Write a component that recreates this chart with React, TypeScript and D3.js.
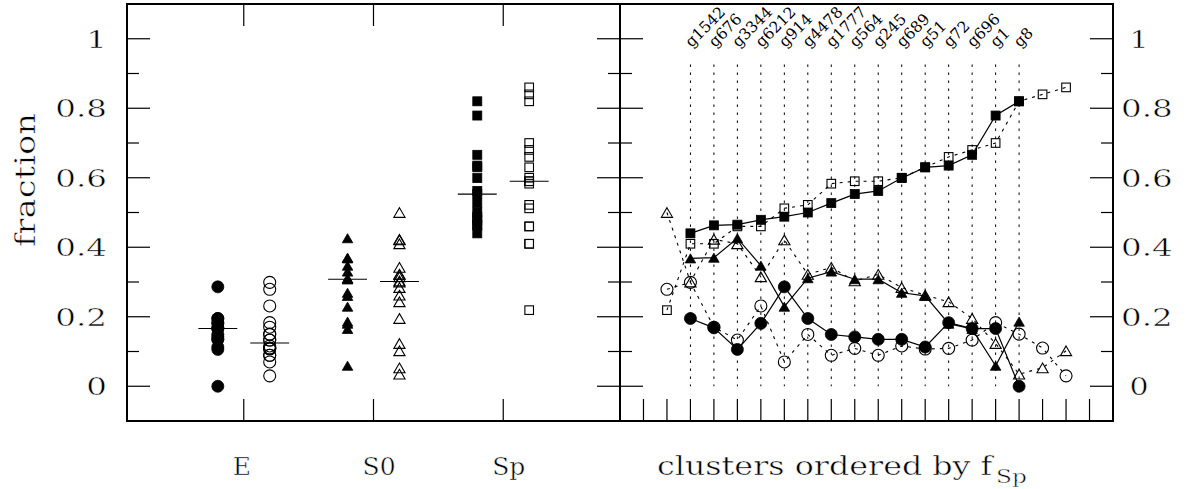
import React from "react";
import * as d3 from "d3";

// Cluster names, in the order of increasing spiral fraction
const clusters = [
  "g1542", "g676", "g3344", "g6212", "g914", "g4478", "g1777", "g564",
  "g245", "g689", "g51", "g72", "g696", "g1", "g8",
];
// Slots on the ordered axis: clusters occupy 3..17, the comparison sample 2..19
const clusterPos = d3.range(3, 18);
const compPos = d3.range(2, 20);

// Morphological fractions of the clusters (filled symbols)
const spCluster = [0.44, 0.463, 0.465, 0.479, 0.488, 0.5, 0.527, 0.553, 0.562, 0.599, 0.63, 0.635, 0.666, 0.779, 0.82];
const s0Cluster = [0.368, 0.37, 0.426, 0.347, 0.229, 0.311, 0.33, 0.308, 0.308, 0.269, 0.26, 0.18, 0.165, 0.059, 0.186];
const eCluster = [0.195, 0.168, 0.106, 0.181, 0.286, 0.195, 0.149, 0.142, 0.135, 0.135, 0.113, 0.183, 0.166, 0.166, 0.0];

// Morphological fractions of the comparison sample (open symbols)
const spComp = [0.219, 0.41, 0.41, 0.46, 0.46, 0.512, 0.522, 0.583, 0.59, 0.59, 0.6, 0.63, 0.66, 0.68, 0.7, 0.82, 0.84, 0.86];
const s0Comp = [0.5, 0.3, 0.423, 0.41, 0.315, 0.421, 0.322, 0.342, 0.303, 0.322, 0.284, 0.262, 0.243, 0.195, 0.123, 0.035, 0.053, 0.102];
const eComp = [0.279, 0.299, 0.17, 0.133, 0.231, 0.07, 0.149, 0.089, 0.109, 0.089, 0.116, 0.107, 0.109, 0.133, 0.183, 0.15, 0.11, 0.03];

const categories = ["E", "S0", "Sp"];
const yTicks = [0, 0.2, 0.4, 0.6, 0.8, 1];
const yTickLabels = ["0", "0.2", "0.4", "0.6", "0.8", "1"];
const yMinor = [0.1, 0.3, 0.5, 0.7, 0.9];

const W = 1193;
const H = 489;
const top = 4;
const bottom = 421;
const midX = 620;

const y = d3.scaleLinear().domain([-0.1, 1.1]).range([bottom, top]);
const xL = d3.scaleLinear().domain([0.1, 3.9]).range([127, midX]);
const xR = d3.scaleLinear().domain([0, 21]).range([midX, 1113]);

const FONT = "DejaVu Serif";
// thin white outline that lightens the glyph strokes
const thin = { stroke: "#fff", strokeWidth: 0.5 };

type Shape = "circle" | "square" | "triangle";

function Marker({ shape, cx, cy, filled }: { shape: Shape; cx: number; cy: number; filled: boolean }) {
  const fill = filled ? "#000" : "none";
  const sw = filled ? 0.8 : 1.1;
  if (shape === "circle") {
    return <circle cx={cx} cy={cy} r={6} fill={fill} stroke="#000" strokeWidth={sw} />;
  }
  if (shape === "square") {
    const s = filled ? 9 : 8.6;
    return <rect x={cx - s / 2} y={cy - s / 2} width={s} height={s} fill={fill} stroke="#000" strokeWidth={sw} />;
  }
  const w = filled ? 10.5 : 11.2;
  const h = w * 0.866;
  const p = `M${cx},${cy - h / 2}L${cx + w / 2},${cy + h / 2}L${cx - w / 2},${cy + h / 2}Z`;
  return <path d={p} fill={fill} stroke="#000" strokeWidth={sw} strokeLinejoin="miter" />;
}

function SLabel({ x, yy, text, size, sx = 1, anchor = "middle", rotate = 0 }: {
  x: number; yy: number; text: string; size: number; sx?: number; anchor?: string; rotate?: number;
}) {
  return (
    <text
      transform={`translate(${x},${yy}) rotate(${rotate}) scale(${sx},1)`}
      fontFamily={FONT}
      fontSize={size}
      textAnchor={anchor}
      fill="#000"
      {...thin}
    >
      {text}
    </text>
  );
}

const series: { shape: Shape; cluster: number[]; comp: number[] }[] = [
  { shape: "circle", cluster: eCluster, comp: eComp },
  { shape: "triangle", cluster: s0Cluster, comp: s0Comp },
  { shape: "square", cluster: spCluster, comp: spComp },
];

export default function App() {
  const line = d3.line<[number, number]>().x((d) => d[0]).y((d) => d[1]);

  const yTickMarks = (x0: number, dir: number) => (
    <g stroke="#000" strokeWidth={1.2}>
      {yTicks.map((t) => (
        <line key={`M${t}`} x1={x0} x2={x0 + dir * 23} y1={y(t)} y2={y(t)} />
      ))}
      {yMinor.map((t) => (
        <line key={`m${t}`} x1={x0} x2={x0 + dir * 12} y1={y(t)} y2={y(t)} />
      ))}
    </g>
  );

  return (
    <svg
      width={W}
      height={H}
      viewBox={`0 0 ${W} ${H}`}
      style={{ position: "absolute", left: 0, top: 0, display: "block", background: "#fff" }}
    >
      <rect x={0} y={0} width={W} height={H} fill="#fff" />

      {/* Left panel: fractions per morphological type */}
      {yTickMarks(xL.range()[0], 1)}
      {yTickMarks(midX, -1)}
      <g stroke="#000" strokeWidth={1.2}>
        {[1, 2, 3].map((c) => (
          <g key={c}>
            <line x1={xL(c)} x2={xL(c)} y1={top} y2={top + 22} />
            <line x1={xL(c)} x2={xL(c)} y1={bottom} y2={bottom - 22} />
          </g>
        ))}
      </g>
      {series.map((s, i) => {
        const c = i + 1;
        const medF = d3.median(s.cluster) as number;
        const medO = d3.median(s.comp) as number;
        return (
          <g key={s.shape}>
            {s.cluster.map((v, j) => (
              <Marker key={`f${j}`} shape={s.shape} cx={xL(c - 0.2)} cy={y(v)} filled />
            ))}
            {s.comp.map((v, j) => (
              <Marker key={`o${j}`} shape={s.shape} cx={xL(c + 0.2)} cy={y(v)} filled={false} />
            ))}
            <line x1={xL(c - 0.35)} x2={xL(c - 0.05)} y1={y(medF)} y2={y(medF)} stroke="#000" strokeWidth={1.1} />
            <line x1={xL(c + 0.05)} x2={xL(c + 0.35)} y1={y(medO)} y2={y(medO)} stroke="#000" strokeWidth={1.1} />
          </g>
        );
      })}

      {/* Right panel: fractions per cluster */}
      {yTickMarks(midX, 1)}
      {yTickMarks(xR.range()[1], -1)}
      <g stroke="#000" strokeWidth={1.2}>
        {d3.range(1, 21).map((p) => (
          <line key={p} x1={xR(p)} x2={xR(p)} y1={bottom} y2={bottom - 22} />
        ))}
      </g>
      <g stroke="#000" strokeWidth={1} strokeDasharray="2.5,5.5">
        {clusterPos.map((p) => (
          <line key={p} x1={xR(p)} x2={xR(p)} y1={y(0.926)} y2={y(0)} />
        ))}
      </g>
      {clusters.map((name, i) => (
        <text
          key={name}
          transform={`translate(${xR(clusterPos[i]) + 1},${48}) rotate(-45)`}
          fontFamily={FONT}
          fontSize={15.5}
          fill="#000"
        >
          {name}
        </text>
      ))}
      {series.map((s) => (
        <g key={`r${s.shape}`}>
          <path
            d={line(s.comp.map((v, j) => [xR(compPos[j]), y(v)] as [number, number])) ?? ""}
            fill="none"
            stroke="#000"
            strokeWidth={1.1}
            strokeDasharray="3,5"
          />
          {s.comp.map((v, j) => (
            <Marker key={`o${j}`} shape={s.shape} cx={xR(compPos[j])} cy={y(v)} filled={false} />
          ))}
        </g>
      ))}
      {series.map((s) => (
        <g key={`f${s.shape}`}>
          <path
            d={line(s.cluster.map((v, j) => [xR(clusterPos[j]), y(v)] as [number, number])) ?? ""}
            fill="none"
            stroke="#000"
            strokeWidth={1.2}
          />
          {s.cluster.map((v, j) => (
            <Marker key={`f${j}`} shape={s.shape} cx={xR(clusterPos[j])} cy={y(v)} filled />
          ))}
        </g>
      ))}

      {/* Frames */}
      <rect x={xL.range()[0]} y={top} width={midX - xL.range()[0]} height={bottom - top} fill="none" stroke="#000" strokeWidth={2} />
      <rect x={midX} y={top} width={xR.range()[1] - midX} height={bottom - top} fill="none" stroke="#000" strokeWidth={2} />

      {/* Tick labels */}
      {yTicks.map((t, i) => (
        <SLabel key={`l${t}`} x={107} yy={y(t) + 9} text={yTickLabels[i]} size={25} sx={1.3} anchor="end" />
      ))}
      {yTicks.map((t, i) =>
        yTickLabels[i].length > 1 ? (
          <SLabel key={`r${t}`} x={1121} yy={y(t) + 9} text={yTickLabels[i]} size={25} sx={1.3} anchor="start" />
        ) : (
          <SLabel key={`r${t}`} x={1139} yy={y(t) + 9} text={yTickLabels[i]} size={25} sx={1.2} anchor="middle" />
        )
      )}
      {categories.map((c, i) => (
        <SLabel key={c} x={xL(i + 1) - 11} yy={475} text={c} size={25} anchor="start" />
      ))}

      {/* Axis titles */}
      <SLabel x={35} yy={180} text="fraction" size={27} sx={1.25} rotate={-90} />
      <text transform={`translate(657,475) scale(1.22,1)`} fontFamily={FONT} fontSize={26} fill="#000" {...thin}>
        clusters ordered by f
        <tspan fontSize={19} dx={3} dy={8}>Sp</tspan>
      </text>
    </svg>
  );
}
